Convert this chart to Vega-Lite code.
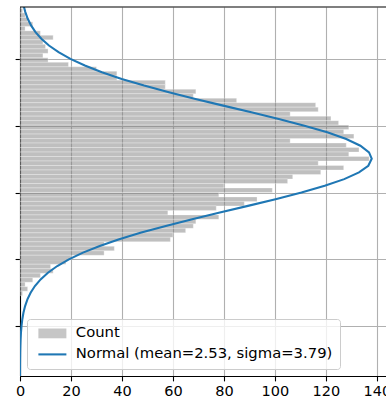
{
  "$schema": "https://vega.github.io/schema/vega-lite/v6.json",
  "autosize": "none",
  "width": 366,
  "height": 369,
  "padding": {"left": 20, "top": 7, "right": 0, "bottom": 27},
  "config": {"view": {"stroke": null}, "font": "DejaVu Sans"},
  "datasets": {
    "hist": [
      {"lo": 13.474, "hi": 13.81, "count": 1},
      {"lo": 13.138, "hi": 13.474, "count": 2},
      {"lo": 12.803, "hi": 13.138, "count": 3},
      {"lo": 12.467, "hi": 12.803, "count": 5},
      {"lo": 12.131, "hi": 12.467, "count": 2},
      {"lo": 11.795, "hi": 12.131, "count": 8},
      {"lo": 11.459, "hi": 11.795, "count": 13},
      {"lo": 11.124, "hi": 11.459, "count": 9},
      {"lo": 10.788, "hi": 11.124, "count": 10},
      {"lo": 10.452, "hi": 10.788, "count": 11},
      {"lo": 10.116, "hi": 10.452, "count": 9},
      {"lo": 9.780, "hi": 10.116, "count": 11},
      {"lo": 9.444, "hi": 9.780, "count": 19},
      {"lo": 9.109, "hi": 9.444, "count": 30},
      {"lo": 8.773, "hi": 9.109, "count": 38},
      {"lo": 8.437, "hi": 8.773, "count": 38},
      {"lo": 8.101, "hi": 8.437, "count": 57},
      {"lo": 7.766, "hi": 8.101, "count": 57},
      {"lo": 7.430, "hi": 7.766, "count": 69},
      {"lo": 7.094, "hi": 7.430, "count": 68},
      {"lo": 6.758, "hi": 7.094, "count": 85},
      {"lo": 6.422, "hi": 6.758, "count": 116},
      {"lo": 6.087, "hi": 6.422, "count": 117},
      {"lo": 5.751, "hi": 6.087, "count": 106},
      {"lo": 5.415, "hi": 5.751, "count": 122},
      {"lo": 5.079, "hi": 5.415, "count": 125},
      {"lo": 4.743, "hi": 5.079, "count": 129},
      {"lo": 4.408, "hi": 4.743, "count": 127},
      {"lo": 4.072, "hi": 4.408, "count": 131},
      {"lo": 3.736, "hi": 4.072, "count": 106},
      {"lo": 3.400, "hi": 3.736, "count": 128},
      {"lo": 3.064, "hi": 3.400, "count": 133},
      {"lo": 2.729, "hi": 3.064, "count": 129},
      {"lo": 2.393, "hi": 2.729, "count": 137},
      {"lo": 2.057, "hi": 2.393, "count": 117},
      {"lo": 1.721, "hi": 2.057, "count": 127},
      {"lo": 1.385, "hi": 1.721, "count": 118},
      {"lo": 1.050, "hi": 1.385, "count": 107},
      {"lo": 0.714, "hi": 1.050, "count": 105},
      {"lo": 0.378, "hi": 0.714, "count": 80},
      {"lo": 0.042, "hi": 0.378, "count": 99},
      {"lo": -0.294, "hi": 0.042, "count": 78},
      {"lo": -0.629, "hi": -0.294, "count": 93},
      {"lo": -0.965, "hi": -0.629, "count": 88},
      {"lo": -1.301, "hi": -0.965, "count": 77},
      {"lo": -1.637, "hi": -1.301, "count": 58},
      {"lo": -1.973, "hi": -1.637, "count": 78},
      {"lo": -2.308, "hi": -1.973, "count": 69},
      {"lo": -2.644, "hi": -2.308, "count": 68},
      {"lo": -2.980, "hi": -2.644, "count": 65},
      {"lo": -3.316, "hi": -2.980, "count": 60},
      {"lo": -3.652, "hi": -3.316, "count": 59},
      {"lo": -3.987, "hi": -3.652, "count": 33},
      {"lo": -4.323, "hi": -3.987, "count": 37},
      {"lo": -4.659, "hi": -4.323, "count": 33},
      {"lo": -4.995, "hi": -4.659, "count": 20},
      {"lo": -5.331, "hi": -4.995, "count": 18},
      {"lo": -5.666, "hi": -5.331, "count": 12},
      {"lo": -6.002, "hi": -5.666, "count": 13},
      {"lo": -6.338, "hi": -6.002, "count": 8},
      {"lo": -6.674, "hi": -6.338, "count": 5},
      {"lo": -7.010, "hi": -6.674, "count": 2},
      {"lo": -7.345, "hi": -7.010, "count": 3},
      {"lo": -7.681, "hi": -7.345, "count": 1}
    ],
    "curve": [
      {"v": -13.73, "c": 0.014}, {"v": -13.5, "c": 0.018}, {"v": -13, "c": 0.031},
      {"v": -12.5, "c": 0.053}, {"v": -12, "c": 0.089}, {"v": -11.5, "c": 0.146},
      {"v": -11, "c": 0.236}, {"v": -10.5, "c": 0.374}, {"v": -10, "c": 0.584},
      {"v": -9.5, "c": 0.895}, {"v": -9, "c": 1.35}, {"v": -8.5, "c": 2.0},
      {"v": -8, "c": 2.91}, {"v": -7.5, "c": 4.16}, {"v": -7, "c": 5.85},
      {"v": -6.5, "c": 8.08}, {"v": -6, "c": 10.96}, {"v": -5.5, "c": 14.62},
      {"v": -5, "c": 19.18}, {"v": -4.5, "c": 24.7}, {"v": -4, "c": 31.28},
      {"v": -3.5, "c": 38.92}, {"v": -3, "c": 47.59}, {"v": -2.5, "c": 57.2},
      {"v": -2, "c": 67.56}, {"v": -1.5, "c": 78.41}, {"v": -1, "c": 89.43},
      {"v": -0.5, "c": 100.25}, {"v": 0, "c": 110.44}, {"v": 0.5, "c": 119.56},
      {"v": 1, "c": 127.2}, {"v": 1.5, "c": 133.0}, {"v": 2, "c": 136.66},
      {"v": 2.53, "c": 138.0}, {"v": 3, "c": 136.94}, {"v": 3.5, "c": 133.55},
      {"v": 4, "c": 128.0}, {"v": 4.5, "c": 120.56}, {"v": 5, "c": 111.59},
      {"v": 5.5, "c": 101.53}, {"v": 6, "c": 90.76}, {"v": 6.5, "c": 79.73},
      {"v": 7, "c": 68.84}, {"v": 7.5, "c": 58.41}, {"v": 8, "c": 48.7},
      {"v": 8.5, "c": 39.91}, {"v": 9, "c": 32.14}, {"v": 9.5, "c": 25.44},
      {"v": 10, "c": 19.78}, {"v": 10.5, "c": 15.12}, {"v": 11, "c": 11.36},
      {"v": 11.5, "c": 8.38}, {"v": 12, "c": 6.08}, {"v": 12.5, "c": 4.34},
      {"v": 13, "c": 3.04}, {"v": 13.5, "c": 2.09}, {"v": 13.88, "c": 1.56}
    ]
  },
  "layer": [
    {
      "data": {"name": "hist"},
      "mark": {"type": "bar", "orient": "horizontal", "binSpacing": 0, "fillOpacity": 0.5, "stroke": "#ffffff", "strokeWidth": 0.5, "strokeOpacity": 0.6},
      "encoding": {
        "x": {"field": "count", "type": "quantitative",
          "scale": {"domain": [0, 143.6], "nice": false, "zero": false},
          "axis": {"values": [0, 20, 40, 60, 80, 100, 120, 140], "title": null,
            "grid": true, "gridColor": "#b0b0b0", "gridWidth": 1.1,
            "domainColor": "#000000", "domainWidth": 1.1,
            "tickColor": "#000000", "tickWidth": 1.1, "tickSize": 4.9,
            "labelFont": "DejaVu Sans", "labelFontSize": 14.5, "labelColor": "#000000",
            "labelPadding": 4, "labelFlush": false, "labelOverlap": false}},
        "y": {"field": "lo", "type": "quantitative", "bin": "binned",
          "scale": {"domain": [-13.73, 13.88], "nice": false, "zero": false},
          "axis": {"values": [-10, -5, 0, 5, 10], "labels": false, "title": null,
            "grid": true, "gridColor": "#b0b0b0", "gridWidth": 1.1,
            "domainColor": "#000000", "domainWidth": 1.1,
            "tickColor": "#000000", "tickWidth": 1.1, "tickSize": 4.9}},
        "y2": {"field": "hi"},
        "color": {"datum": "Count", "type": "nominal",
          "scale": {"domain": ["Count", "Normal (mean=2.53, sigma=3.79)"], "range": ["#808080", "#1f77b4"]},
          "legend": {
            "orient": "bottom-left", "offset": 7, "title": null,
            "labelFont": "DejaVu Sans", "labelFontSize": 14.8, "labelColor": "#000000",
            "labelLimit": 400,
            "symbolSize": 196, "labelOffset": 27,
            "padding": 7, "rowPadding": 5,
            "strokeColor": "#cccccc", "fillColor": "rgba(255,255,255,0.8)", "cornerRadius": 3,
            "encode": {"symbols": {"update": {
              "shape": {"signal": "datum.value === 'Count' ? 'M-0.43,-0.7H3.57V0.7H-0.43Z' : 'M-0.43,0H3.57'"},
              "fill": {"signal": "datum.value === 'Count' ? '#808080' : 'transparent'"},
              "fillOpacity": {"value": 0.45},
              "stroke": {"signal": "datum.value === 'Count' ? 'transparent' : '#1f77b4'"},
              "strokeWidth": {"signal": "datum.value === 'Count' ? 0 : 2.08"},
              "opacity": {"value": 1}
            }}}
          }}
      }
    },
    {
      "data": {"name": "curve"},
      "mark": {"type": "line", "strokeWidth": 2.08, "clip": true},
      "encoding": {
        "x": {"field": "c", "type": "quantitative"},
        "y": {"field": "v", "type": "quantitative"},
        "order": {"field": "v", "type": "quantitative"},
        "color": {"datum": "Normal (mean=2.53, sigma=3.79)", "type": "nominal",
          "legend": {
            "orient": "bottom-left", "offset": 7, "title": null,
            "labelFont": "DejaVu Sans", "labelFontSize": 14.8, "labelColor": "#000000",
            "labelLimit": 400,
            "symbolSize": 196, "labelOffset": 27,
            "padding": 7, "rowPadding": 5,
            "strokeColor": "#cccccc", "fillColor": "rgba(255,255,255,0.8)", "cornerRadius": 3,
            "encode": {"symbols": {"update": {
              "shape": {"signal": "datum.value === 'Count' ? 'M-0.43,-0.7H3.57V0.7H-0.43Z' : 'M-0.43,0H3.57'"},
              "fill": {"signal": "datum.value === 'Count' ? '#808080' : 'transparent'"},
              "fillOpacity": {"value": 0.45},
              "stroke": {"signal": "datum.value === 'Count' ? 'transparent' : '#1f77b4'"},
              "strokeWidth": {"signal": "datum.value === 'Count' ? 0 : 2.08"},
              "opacity": {"value": 1}
            }}}
          }}
      }
    },
    {
      "data": {"values": [{"top": 13.88}]},
      "mark": {"type": "rule", "color": "#000000", "strokeWidth": 1.1},
      "encoding": {"y": {"field": "top", "type": "quantitative"}}
    }
  ]
}
